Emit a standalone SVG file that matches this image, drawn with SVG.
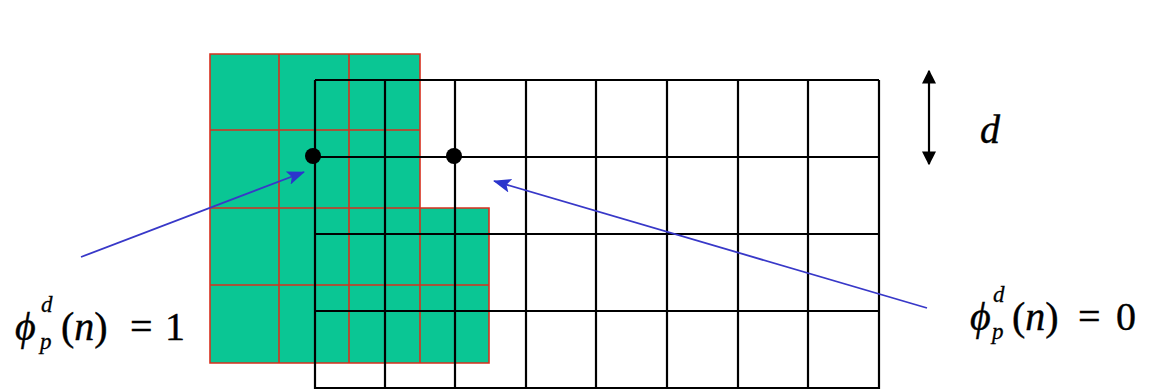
<svg xmlns="http://www.w3.org/2000/svg" width="1149" height="391" viewBox="0 0 1149 391">
<style>
.red{stroke:#D8301E;stroke-width:1.6;fill:none}
.blk{stroke:#000;stroke-width:2.2;fill:none}
.blue{stroke:#3838C8;stroke-width:1.8;fill:none}
.t{font-family:'Liberation Serif','Times New Roman',serif;font-size:40px;fill:#000;stroke:#000;stroke-width:0.4}
.it{font-style:italic}
.sm{font-size:23px;font-style:italic;stroke-width:0.3}
</style>
<defs>
<marker id="ab" viewBox="0 0 18 14" refX="17" refY="7" markerWidth="18" markerHeight="14" markerUnits="userSpaceOnUse" orient="auto">
<path d="M0,0 L18,7 L0,14 L4,7 z" fill="#2B35CC"/>
</marker>
<marker id="kb" viewBox="0 0 10 10" refX="9" refY="5" markerWidth="14" markerHeight="14" markerUnits="userSpaceOnUse" orient="auto">
<path d="M0,0 L10,5 L0,10 z" fill="#000"/>
</marker>
</defs>
<rect width="1149" height="391" fill="#fff"/>
<g id="green-region">
<polygon points="210,54 420,54 420,208 489,208 489,363 210,363" fill="#0AC694"/>
<path class="red" d="M210,54 H420 V208 H489 V363 H210 Z M279,54 V363 M349,54 V363 M420,208 V363 M210,130 H420 M210,208 H420 M210,285 H489"/>
</g>
<g id="grid">
<path class="blk" d="M315,80 H879 M315,157 H879 M315,234 H879 M315,311 H879 M315,388 H879 M315,80 V389 M385,80 V389 M455,80 V389 M526,80 V389 M596,80 V389 M667,80 V389 M738,80 V389 M808,80 V389 M879,80 V389"/>
</g>
<g id="dot-left"><circle cx="313" cy="156" r="8" fill="#000"/></g>
<g id="dot-right"><circle cx="454" cy="156" r="8" fill="#000"/></g>
<g id="connectors">
<line class="blue" x1="81" y1="257" x2="304" y2="172" marker-end="url(#ab)"/>
<line class="blue" x1="927" y1="308" x2="494" y2="181" marker-end="url(#ab)"/>
<line x1="929" y1="117" x2="929" y2="71" stroke="#000" stroke-width="2.2" marker-end="url(#kb)"/>
<line x1="929" y1="117" x2="929" y2="164" stroke="#000" stroke-width="2.2" marker-end="url(#kb)"/>
</g>
<g id="label-d"><text class="t it" x="980" y="143" font-size="38">d</text></g>
<g id="label-left">
<text class="t" y="340"><tspan class="it" x="15">ϕ</tspan><tspan class="sm" x="41" y="312">d</tspan><tspan class="sm" x="40" y="349">p</tspan><tspan x="61" y="340">(</tspan><tspan class="it">n</tspan><tspan>)</tspan><tspan x="130">=</tspan><tspan x="165">1</tspan></text>
</g>
<g id="label-right">
<text class="t" y="330"><tspan class="it" x="970">ϕ</tspan><tspan class="sm" x="993" y="302">d</tspan><tspan class="sm" x="992" y="339">p</tspan><tspan x="1012" y="330">(</tspan><tspan class="it">n</tspan><tspan>)</tspan><tspan x="1078">=</tspan><tspan x="1116">0</tspan></text>
</g>
</svg>
